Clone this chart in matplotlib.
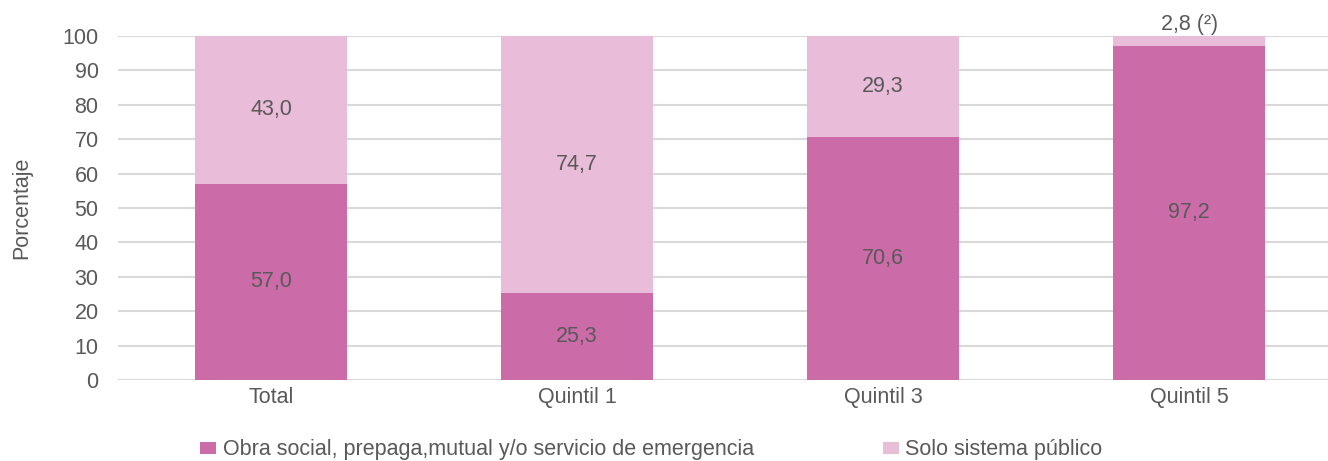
import numpy as np
import matplotlib.pyplot as plt

plt.rcParams['font.family'] = ['Liberation Sans', 'DejaVu Sans']

categories = ['Total', 'Quintil 1', 'Quintil 3', 'Quintil 5']
obra_social = [57.0, 25.3, 70.6, 97.2]
solo_publico = [43.0, 74.7, 29.3, 2.8]
obra_labels = ['57,0', '25,3', '70,6', '97,2']
publico_labels = ['43,0', '74,7', '29,3', '2,8 (²)']

dark = '#CB6CA8'
light = '#E9BCD9'
txt = '#595959'
fs = 15.5

fig = plt.figure(figsize=(13.28, 4.61), dpi=100)
ax = fig.add_axes([0.0889, 0.1757, 0.9111, 0.7462])

x = np.arange(len(categories))
w = 0.497
ax.bar(x, obra_social, w, color=dark, zorder=3,
       label='Obra social, prepaga,mutual y/o servicio de emergencia')
ax.bar(x, solo_publico, w, bottom=obra_social, color=light, zorder=3,
       label='Solo sistema público')

for i in range(len(categories)):
    ax.text(x[i], obra_social[i] / 2, obra_labels[i], ha='center', va='center',
            fontsize=fs, color=txt, zorder=4)
    if solo_publico[i] > 10:
        ax.text(x[i], obra_social[i] + solo_publico[i] / 2, publico_labels[i],
                ha='center', va='center', fontsize=fs, color=txt, zorder=4)
    else:
        # small segment: label goes above the bar
        ax.text(x[i], 100 + 0.4, publico_labels[i], ha='center', va='bottom',
                fontsize=fs, color=txt, zorder=4)

ax.set_xlim(-0.5, 3.454)
ax.set_ylim(0, 100)
ax.set_yticks(range(0, 101, 10))
ax.set_xticks(x)
ax.set_xticklabels(categories)
ax.tick_params(axis='both', length=0, labelsize=fs, labelcolor=txt)
ax.tick_params(axis='y', pad=14)
ax.tick_params(axis='x', pad=5)
ax.yaxis.grid(True, color='#d9d9d9', linewidth=1.5, zorder=0)
for s in ax.spines.values():
    s.set_visible(False)
ax.set_ylabel('Porcentaje', fontsize=fs, color=txt, labelpad=22)

ax.legend(loc='center left', bbox_to_anchor=(0.068, -0.203), ncol=2, frameon=False,
          fontsize=fs, labelcolor=txt, handlelength=0.75, handleheight=0.5,
          handletextpad=0.28, columnspacing=6.0, borderaxespad=0, borderpad=0)

fig.savefig('out.png', dpi=100)
